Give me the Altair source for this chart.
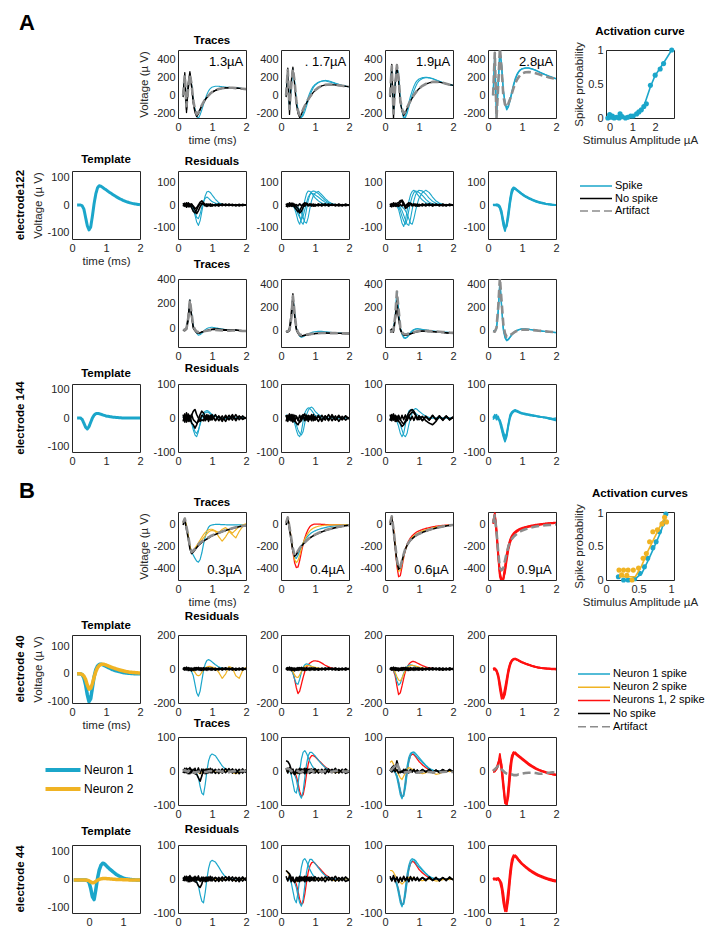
import altair as alt
import pandas as pd

FONT = "Liberation Sans"
CYAN = "#1ba6ca"
YELLOW = "#f0b323"
RED = "#ff1010"
GRAY = "#8c8c8c"
BLACK = "#000000"
AXC = "#262626"

TYPES = ["Spike", "No spike", "Artifact", "Neuron 1 spike", "Neuron 2 spike",
         "Neurons 1, 2 spike", "Neuron 1", "Neuron 2"]
TYPE_COLORS = [CYAN, BLACK, GRAY, CYAN, YELLOW, RED, CYAN, YELLOW]
TYPE_DASHES = [[1, 0], [1, 0], [8, 4], [1, 0], [1, 0], [1, 0], [1, 0], [1, 0]]

# common time base (ms)
T = [0.15, 0.2, 0.25, 0.3, 0.35, 0.4, 0.45, 0.5, 0.55, 0.6, 0.65, 0.7, 0.75, 0.8, 0.85, 0.9, 0.95, 1.0,
     1.1, 1.2, 1.3, 1.4, 1.5, 1.6, 1.7, 1.8, 1.9, 2.0]
# time base of the electrode 44 template
TT = [-0.45, -0.3, -0.2, -0.1, -0.05, 0.0, 0.05, 0.1, 0.15, 0.2, 0.25, 0.3, 0.35, 0.4, 0.45, 0.5, 0.6,
      0.7, 0.8, 0.9, 1.0, 1.1, 1.2, 1.3, 1.4, 1.5]

# generic "no spike" noise traces
NZ1 = [8, -6, 10, -8, 6, -10, 5, -7, 8, -5, 6, -8, 7, -5, 6, -4, 5, -6, 4, -5, 6, -4, 5, -6, 4, -5, 6, -3]
NZ2 = [-6, 8, -5, 7, -8, 5, -6, 8, -5, 9, -7, 6, -6, 5, -7, 6, -5, 6, -7, 5, -6, 7, -5, 6, -7, 5, -6, 4]
NZ3 = [3, -3, 5, -2, 4, -6, 2, -4, 5, -3, 2, -5, 4, -2, 3, -4, 2, -3, 4, -2, 3, -4, 2, -3, 4, -2, 3, -2]

# ---------------- A: electrode 122 traces ----------------
a1c1_art = [0, 220, -120, 80, 230, 120, -60, -160, -210, -190, -150, -110, -75, -45, -20, 0, 20, 35, 55, 70, 78, 82, 84, 83, 80, 77, 73, 68]
a1c1_blk1 = [-20, 250, -190, 130, 260, 90, -90, -190, -235, -205, -160, -118, -80, -50, -25, -3, 18, 33, 54, 69, 77, 82, 84, 83, 80, 77, 73, 68]
a1c1_blk2 = [10, 200, -160, 60, 240, 110, -70, -175, -220, -198, -152, -112, -78, -48, -22, -2, 19, 34, 55, 70, 78, 82, 84, 83, 80, 77, 73, 68]
a1c1_cyn = [0, 220, -120, 80, 230, 120, -60, -150, -230, -255, -215, -160, -100, -40, 10, 50, 75, 90, 100, 100, 95, 90, 88, 85, 82, 79, 75, 70]

a1c2_art = [0, 280, -150, 100, 290, 150, -60, -170, -220, -200, -155, -115, -80, -45, -15, 10, 35, 55, 85, 105, 115, 120, 118, 115, 110, 105, 100, 95]
a1c2_blk = [-20, 300, -210, 150, 310, 120, -90, -200, -245, -210, -160, -120, -85, -50, -20, 8, 33, 53, 84, 104, 114, 118, 117, 114, 110, 105, 100, 95]
a1c2_cyn1 = [0, 280, -150, 100, 290, 150, -60, -165, -240, -250, -200, -140, -80, -20, 30, 70, 100, 120, 145, 155, 160, 150, 140, 128, 118, 108, 100, 95]
a1c2_cyn2 = [0, 280, -150, 100, 290, 150, -60, -150, -215, -240, -225, -180, -120, -60, 0, 45, 85, 110, 140, 158, 165, 160, 148, 134, 122, 110, 100, 95]

a1c3_art = [0, 320, -200, 100, 330, 200, -50, -150, -200, -180, -135, -95, -60, -25, 5, 30, 55, 75, 105, 125, 140, 148, 150, 146, 138, 128, 118, 110]
a1c3_blk = [-20, 340, -260, 150, 340, 150, -80, -170, -225, -190, -145, -100, -65, -30, 0, 28, 53, 73, 104, 124, 138, 146, 148, 145, 137, 127, 118, 110]
a1c3_cyn1 = [0, 320, -200, 100, 330, 200, -50, -175, -260, -230, -160, -80, -10, 50, 100, 140, 165, 180, 195, 200, 195, 185, 170, 155, 140, 128, 118, 110]
a1c3_cyn2 = [0, 320, -200, 100, 330, 200, -50, -160, -240, -245, -200, -130, -60, 0, 50, 95, 135, 160, 185, 195, 192, 182, 168, 152, 138, 126, 116, 110]

a1c4_art = [0, 470, -250, 100, 520, 300, 0, -100, -130, -90, -40, 20, 80, 130, 170, 200, 225, 240, 255, 258, 252, 243, 232, 220, 208, 196, 188, 180]
a1c4_cyn1 = [0, 450, -230, 120, 500, 330, 60, -90, -160, -130, -60, 20, 100, 170, 220, 255, 278, 290, 300, 300, 290, 275, 258, 240, 225, 210, 195, 182]
a1c4_cyn2 = [0, 450, -230, 120, 500, 320, 50, -70, -140, -110, -40, 40, 120, 185, 232, 262, 282, 294, 302, 303, 292, 278, 260, 243, 227, 212, 198, 185]

# ---------------- A: electrode 122 template / residuals ----------------
tmpl_a2 = [0, 0, 0, -3, -15, -45, -75, -90, -80, -40, 5, 40, 62, 70, 68, 64, 59, 55, 46, 38, 30, 23, 17, 12, 8, 5, 3, 1]

a2c1_cyn1 = [0, 0, 2, 0, -3, -8, -20, -45, -75, -90, -70, -30, 10, 40, 58, 60, 55, 45, 25, 10, 3, 0, -2, 0, 1, 0, 0, 0]
a2c1_cyn2 = [0, 1, 0, -2, 0, -5, -15, -35, -55, -60, -40, -10, 15, 30, 35, 30, 22, 15, 8, 3, 0, -1, 0, 1, 0, 0, 0, 0]
a2c1_blk1 = [8, -6, 10, -8, 6, -12, -28, -35, -20, -5, 6, 8, 3, -4, 5, -3, 4, -5, 3, -4, 5, -3, 4, -3, 2, -4, 3, 0]
a2c1_blk2 = [-6, 8, -10, 6, -8, 5, -10, -22, -38, -25, -8, 4, 6, 3, -3, 4, -5, 3, -4, 5, -3, 4, -2, 3, -4, 2, -3, 1]
a2c1_blk3 = [0, 4, -5, 10, -4, 3, -5, -15, -12, 0, 12, 18, 10, 2, -6, 0, 4, -2, 1, -3, 2, 0, -2, 1, 0, 2, -1, 0]

a2c2_cyn1 = [0, 0, 0, -2, -5, -15, -40, -70, -85, -60, -20, 20, 50, 62, 60, 52, 42, 32, 18, 8, 3, 0, 0, 0, 0, 0, 0, 0]
a2c2_cyn2 = [0, 0, 0, 0, -2, -5, -10, -25, -50, -75, -85, -60, -20, 20, 45, 58, 62, 60, 50, 35, 20, 10, 4, 0, 0, 0, 0, 0]
a2c2_cyn3 = [0, 0, 0, 0, 0, -2, -5, -10, -20, -35, -55, -75, -80, -55, -15, 20, 40, 52, 60, 45, 28, 15, 6, 2, 0, 0, 0, 0]
a2c2_cyn4 = [0, 0, 0, 0, -3, -8, -20, -40, -55, -65, -50, -20, 10, 35, 48, 52, 50, 45, 35, 22, 12, 5, 2, 0, 0, 0, 0, 0]
a2c2_blk1 = [6, -8, 10, -6, 8, -10, -20, -30, -25, -10, 4, 10, 5, -4, 5, -3, 4, -5, 3, -4, 5, -3, 4, -3, 2, -4, 3, 0]
a2c2_blk2 = [-8, 6, -6, 8, -6, 4, -8, -15, -35, -28, -10, 5, 8, 3, -3, 4, -5, 3, -4, 5, -3, 4, -2, 3, -4, 2, -3, 1]

a2c3_cyn1 = [0, 0, 0, -2, -5, -20, -50, -80, -95, -70, -25, 15, 45, 60, 65, 58, 48, 38, 22, 10, 4, 0, 0, 0, 0, 0, 0, 0]
a2c3_cyn2 = [0, 0, 0, 0, -2, -5, -12, -25, -45, -65, -85, -90, -60, -20, 20, 45, 58, 65, 62, 48, 30, 16, 8, 3, 0, 0, 0, 0]
a2c3_cyn3 = [0, 0, 0, 0, 0, -2, -4, -8, -15, -25, -40, -60, -80, -85, -60, -25, 5, 30, 55, 65, 55, 35, 18, 8, 3, 0, 0, 0]
a2c3_cyn4 = [0, 0, 0, 0, -3, -8, -25, -50, -70, -85, -65, -25, 10, 38, 55, 62, 60, 55, 42, 25, 12, 5, 2, 0, 0, 0, 0, 0]
a2c3_blk1 = [6, -8, 10, -6, 8, 10, 20, 15, 0, -10, 4, 10, 5, -4, 5, -3, 4, -5, 3, -4, 5, -3, 4, -3, 2, -4, 3, 0]
a2c3_blk2 = [-8, 6, -6, 8, -6, 4, 10, 22, 10, -15, -10, 5, 8, 3, -3, 4, -5, 3, -4, 5, -3, 4, -2, 3, -4, 2, -3, 1]

a2c4_cyn1 = [0, 2, -3, 0, -10, -35, -80, -105, -90, -40, 20, 60, 75, 72, 66, 60, 54, 48, 38, 30, 23, 17, 12, 8, 5, 3, 1, 0]
a2c4_cyn2 = [3, -2, 2, -5, -15, -45, -90, -115, -80, -25, 30, 68, 78, 74, 68, 62, 56, 50, 40, 32, 25, 19, 14, 10, 6, 4, 2, 0]
a2c4_cyn3 = [-2, 0, 3, 2, -5, -25, -65, -95, -95, -55, 5, 50, 70, 70, 64, 58, 52, 46, 36, 28, 21, 15, 10, 7, 4, 2, 0, -1]

# ---------------- A: electrode 144 traces ----------------
a3c1_art = [-15, -10, 0, 80, 230, 120, 20, -10, -25, -30, -28, -25, -22, -20, -18, -16, -15, -14, -13, -14, -16, -18, -18, -17, -16, -18, -20, -20]
a3c1_blk1 = [-10, -20, 10, 100, 230, 90, 0, -20, -35, -40, -35, -30, -25, -22, -18, -12, -8, -5, -3, -5, -8, -10, -12, -10, -12, -15, -18, -18]
a3c1_blk2 = [-20, -5, -10, 60, 200, 110, 10, -15, -30, -38, -35, -28, -24, -20, -16, -14, -12, -10, -8, -10, -14, -16, -15, -16, -14, -17, -19, -20]
a3c1_cyn = [-15, -10, 0, 80, 230, 120, 20, -10, -40, -55, -50, -40, -25, -10, 0, 5, 8, 10, 5, 0, -5, -10, -12, -14, -15, -17, -18, -20]

a3c2_art = [-15, -10, 0, 100, 300, 150, 20, -20, -40, -45, -45, -42, -40, -38, -36, -34, -32, -30, -28, -26, -26, -27, -28, -28, -29, -30, -30, -30]
a3c2_blk1 = [-10, -20, 20, 150, 320, 120, 0, -30, -50, -55, -50, -48, -45, -42, -40, -38, -35, -32, -30, -28, -27, -28, -30, -30, -29, -30, -31, -32]
a3c2_blk2 = [-20, -5, -10, 80, 260, 140, 15, -25, -45, -52, -48, -45, -43, -40, -38, -35, -33, -31, -29, -27, -26, -27, -28, -29, -30, -31, -32, -33]
a3c2_cyn = [-15, -10, 0, 100, 300, 150, 20, -20, -55, -65, -60, -50, -42, -35, -28, -22, -18, -15, -12, -12, -15, -18, -22, -25, -27, -28, -30, -30]

a3c3_art = [-10, -15, 0, 120, 340, 180, 20, -20, -35, -38, -36, -32, -28, -24, -20, -16, -12, -10, -8, -8, -10, -12, -14, -15, -17, -20, -23, -25]
a3c3_blk1 = [-5, 10, -20, 80, 230, 100, 0, -30, -45, -48, -44, -40, -35, -30, -25, -20, -15, -12, -10, -12, -14, -15, -17, -20, -23, -26, -28, -30]
a3c3_blk2 = [-15, -20, 10, 100, 260, 120, 10, -25, -40, -45, -42, -38, -33, -28, -22, -18, -14, -11, -9, -10, -12, -14, -16, -18, -21, -24, -27, -29]
a3c3_cyn1 = [-10, -15, 0, 120, 340, 180, 20, -40, -70, -75, -60, -40, -20, -5, 5, 10, 12, 10, 5, 0, -5, -10, -14, -16, -18, -20, -23, -25]
a3c3_cyn2 = [-10, -15, 0, 120, 340, 180, 20, -30, -60, -70, -65, -50, -30, -12, 0, 6, 10, 8, 4, 0, -4, -8, -12, -15, -17, -20, -22, -25]

a3c4_art = [-10, -15, 20, 200, 460, 250, 50, -30, -60, -55, -45, -35, -25, -15, -8, -3, 0, 2, 3, 2, 0, -3, -6, -9, -12, -15, -18, -20]
a3c4_cyn1 = [-10, -15, 10, 150, 420, 200, 0, -70, -95, -85, -65, -45, -28, -15, -5, 0, 5, 8, 8, 5, 2, -2, -6, -10, -13, -16, -19, -22]
a3c4_cyn2 = [-5, -10, 20, 180, 440, 220, 20, -60, -88, -80, -60, -40, -25, -12, -3, 3, 7, 10, 9, 6, 2, -3, -7, -11, -14, -17, -20, -24]

# ---------------- A: electrode 144 template / residuals ----------------
tmpl_a4 = [0, 0, 0, -5, -18, -32, -38, -30, -15, 0, 10, 15, 16, 15, 13, 11, 9, 7, 5, 3, 2, 1, 0, 0, 0, 0, 0, 0]

a4c1_cyn1 = [0, 5, -5, 0, -5, -15, -35, -50, -55, -40, -15, 5, 15, 20, 22, 20, 15, 10, 5, 2, 0, -2, 0, 2, 0, -1, 0, 0]
a4c1_cyn2 = [5, 0, -8, 5, 0, -10, -25, -40, -45, -35, -20, 0, 10, 15, 18, 16, 12, 8, 4, 0, -2, 0, 2, 0, -1, 0, 1, 0]
a4c1_blk1 = [10, -12, 15, -10, 8, -15, -20, -30, -20, -5, 10, 20, 15, 5, -5, 8, -6, 10, -8, 6, -10, 8, -5, 10, -8, 6, -4, 2]
a4c1_blk2 = [-10, 12, -8, 12, -10, 10, -5, -10, -15, -10, -5, 8, 5, -8, 10, -10, 8, -6, 10, -8, 6, -10, 8, -6, 10, -5, 6, -2]
a4c1_blk3 = [0, 8, -12, 6, -4, 8, 20, 25, 10, 0, -10, -5, -8, 6, -4, 5, -3, 4, -6, 5, -4, 3, -5, 4, -3, 5, -2, 0]

a4c2_cyn1 = [5, 0, -5, 3, -5, -15, -35, -50, -55, -40, -10, 15, 25, 30, 28, 22, 15, 8, 3, 0, -2, 0, 2, 0, 0, 0, 0, 0]
a4c2_cyn2 = [10, 5, 0, -5, 0, -8, -20, -35, -45, -50, -40, -15, 10, 22, 30, 32, 28, 20, 10, 4, 0, -2, 0, 1, 0, 0, 0, 0]
a4c2_blk1 = [8, -10, 12, -8, 10, -6, -15, -20, -10, 5, 10, -5, 8, -10, 6, -8, 10, -6, 8, -10, 6, -8, 10, -6, 8, -5, 6, -3]
a4c2_blk2 = [-10, 8, -6, 10, -12, 8, 5, -5, -12, -8, 5, 12, -6, 8, -5, 10, -8, 5, -10, 8, -6, 10, -8, 6, -10, 5, -6, 2]

a4c3_cyn1 = [5, 0, -5, 0, -10, -25, -45, -55, -45, -20, 5, 20, 25, 22, 18, 14, 10, 6, 2, 0, 0, 0, 0, 0, 0, 0, 0, 0]
a4c3_cyn2 = [0, 5, 0, -5, -5, -10, -20, -35, -50, -55, -45, -20, 0, 15, 25, 28, 25, 20, 12, 5, 2, 0, 0, 0, 0, 0, 0, 0]
a4c3_blk1 = [10, -8, 12, -10, 6, -10, -15, -25, -20, -8, 5, 15, 22, 25, 20, 10, 0, -5, 5, -8, -15, -20, -10, 5, -5, 6, -4, 2]
a4c3_blk2 = [-8, 10, -6, 8, -10, 8, -5, -12, -18, -12, -5, 6, 12, 18, 15, 8, -3, 6, -8, 5, -6, 8, -5, 6, -4, 5, -3, 0]

a4c4_cyn1 = [0, 10, -5, 5, -10, -30, -50, -65, -50, -20, 5, 15, 20, 22, 20, 18, 15, 14, 12, 10, 8, 6, 4, 3, 2, 0, -2, 0]
a4c4_cyn2 = [5, 0, 10, -5, -5, -20, -40, -55, -45, -15, 10, 18, 22, 24, 22, 20, 17, 15, 13, 11, 9, 7, 5, 2, 0, -3, -5, -8]
a4c4_cyn3 = [-5, 5, 0, 0, -15, -35, -55, -70, -55, -25, 0, 12, 18, 20, 18, 16, 14, 12, 10, 8, 6, 5, 3, 2, 1, 0, -3, -5]

# ---------------- B: electrode 40 traces ----------------
b1c1_art = [20, 60, -20, -100, -200, -250, -240, -220, -200, -180, -165, -155, -145, -135, -125, -115, -105, -98, -85, -72, -60, -50, -40, -30, -22, -15, -10, -5]
b1c1_blk = [0, 50, -40, -120, -220, -265, -250, -230, -210, -190, -175, -162, -150, -140, -130, -120, -110, -100, -88, -75, -62, -52, -42, -32, -24, -16, -10, -6]
b1c1_cyn = [20, 60, -20, -100, -200, -250, -280, -310, -335, -345, -320, -260, -180, -110, -55, -20, -5, 0, 5, 5, 3, 2, 0, 0, 0, 0, 0, 0]
b1c1_yel1 = [20, 60, -20, -100, -200, -250, -240, -220, -200, -180, -160, -140, -120, -100, -80, -65, -55, -50, -60, -110, -150, -110, -60, -90, -120, -60, -15, 0]
b1c1_yel2 = [20, 60, -20, -100, -200, -250, -240, -215, -190, -165, -140, -115, -90, -70, -55, -45, -40, -40, -55, -70, -40, -25, -50, -75, -45, -15, 0, 10]

b1c2_art = [20, 70, -20, -120, -220, -280, -270, -240, -215, -195, -175, -160, -145, -130, -118, -108, -98, -90, -75, -62, -50, -40, -32, -24, -17, -11, -6, -2]
b1c2_blk = [0, 60, -40, -140, -240, -290, -275, -245, -218, -198, -178, -162, -148, -133, -120, -110, -100, -92, -77, -64, -52, -42, -33, -25, -18, -12, -7, -3]
b1c2_red = [20, 70, -20, -120, -250, -350, -395, -390, -330, -250, -180, -120, -75, -40, -15, -2, 5, 8, 8, 6, 4, 2, 0, 0, 0, 0, 0, 0]
b1c2_yel = [20, 70, -20, -120, -240, -320, -350, -330, -280, -220, -170, -130, -100, -75, -55, -40, -30, -22, -12, -6, -2, 0, 0, 0, 0, 0, 0, 0]
b1c2_cyn = [20, 70, -20, -120, -240, -300, -310, -280, -240, -200, -165, -140, -118, -100, -85, -72, -62, -55, -42, -32, -24, -17, -12, -8, -4, -2, 0, 0]

b1c3_art = [20, 80, -40, -180, -320, -400, -390, -330, -270, -220, -185, -160, -140, -125, -112, -100, -90, -82, -68, -56, -45, -36, -28, -20, -14, -8, -4, 0]
b1c3_blk = [0, 70, -60, -200, -340, -410, -395, -335, -275, -225, -188, -162, -142, -127, -113, -101, -91, -83, -69, -57, -46, -37, -29, -21, -15, -9, -5, -1]
b1c3_red = [20, 80, -40, -200, -380, -480, -470, -390, -300, -230, -180, -145, -120, -100, -85, -72, -62, -55, -42, -32, -24, -17, -12, -8, -4, -2, 0, 0]
b1c3_yel = [20, 80, -40, -190, -350, -430, -420, -360, -290, -228, -185, -155, -132, -115, -100, -88, -78, -70, -56, -45, -35, -27, -20, -14, -9, -5, -2, 0]

b1c4_art = [20, 90, -60, -250, -400, -420, -400, -330, -260, -200, -160, -130, -110, -95, -82, -70, -60, -52, -40, -30, -22, -15, -10, -6, -2, 0, 2, 5]
b1c4_red1 = [30, 100, -50, -280, -460, -520, -510, -420, -300, -210, -150, -110, -85, -68, -55, -45, -38, -32, -22, -14, -8, -2, 3, 8, 12, 15, 18, 20]
b1c4_red2 = [10, 80, -80, -300, -480, -530, -490, -380, -270, -190, -135, -100, -78, -62, -50, -41, -34, -28, -18, -10, -4, 2, 6, 10, 14, 17, 20, 22]
b1c4_red3 = [20, 110, -40, -250, -440, -510, -500, -440, -330, -230, -165, -122, -95, -76, -62, -51, -43, -37, -27, -18, -11, -5, 0, 5, 9, 12, 15, 18]

# ---------------- B: electrode 40 template / residuals ----------------
tmpl_b2_n1 = [0, 0, 0, -3, -15, -40, -75, -100, -90, -50, -10, 15, 28, 34, 35, 33, 30, 27, 21, 15, 11, 8, 5, 3, 2, 1, 0, 0]
tmpl_b2_n2 = [0, 0, 0, -2, -8, -20, -40, -55, -52, -35, -12, 8, 22, 30, 34, 35, 34, 32, 27, 22, 18, 14, 11, 8, 6, 5, 4, 3]

b2c1_cyn = [0, 0, 0, 0, -5, -15, -40, -90, -140, -160, -130, -70, -10, 30, 50, 55, 50, 42, 25, 12, 5, 0, 0, 0, 0, 0, 0, 0]
b2c1_yel = [0, 0, 0, 0, 0, -5, -10, -20, -35, -40, -35, -20, -5, 5, 12, 15, 15, 12, 5, -20, -55, -30, 15, 5, -40, -55, -10, 10]

b2c2_red = [0, 0, 0, -5, -20, -60, -110, -145, -130, -90, -50, -15, 10, 25, 35, 42, 47, 48, 45, 35, 22, 12, 5, 2, 0, 0, 0, 0]
b2c2_cyn = [0, 0, 0, -5, -25, -60, -85, -90, -60, -20, 10, 25, 30, 28, 22, 15, 10, 5, 0, 0, 0, 0, 0, 0, 0, 0, 0, 0]
b2c2_yel = [0, 0, 0, -3, -15, -35, -48, -50, -35, -15, 5, 15, 20, 20, 18, 15, 12, 10, 6, 3, 0, 0, 0, 0, 0, 0, 0, 0]

b2c3_red = [0, 0, -10, -40, -100, -150, -140, -100, -55, -15, 10, 28, 38, 44, 44, 40, 35, 30, 20, 12, 6, 3, 0, 0, 0, 0, 0, 0]
b2c3_cyn = [0, 0, -8, -30, -70, -95, -85, -55, -25, 0, 15, 22, 24, 22, 18, 14, 10, 7, 3, 0, 0, 0, 0, 0, 0, 0, 0, 0]
b2c3_yel = [0, 0, -5, -20, -45, -65, -70, -55, -30, -8, 8, 15, 20, 22, 20, 17, 14, 11, 6, 2, 0, 0, 0, 0, 0, 0, 0, 0]

b2c4_red1 = [5, 0, -10, -40, -100, -160, -170, -130, -70, -10, 30, 50, 58, 60, 55, 50, 45, 40, 32, 25, 18, 12, 8, 5, 3, 2, 0, 0]
b2c4_red2 = [0, 5, -5, -30, -80, -140, -175, -150, -90, -25, 20, 45, 55, 58, 54, 48, 43, 38, 30, 23, 17, 11, 7, 4, 2, 0, -2, -3]
b2c4_red3 = [-5, -3, -15, -50, -120, -175, -160, -110, -55, 0, 35, 52, 60, 62, 57, 52, 46, 41, 33, 26, 19, 13, 9, 6, 4, 3, 2, 2]

# ---------------- B: electrode 44 traces ----------------
b3c1_cyn = [0, 0, 0, 0, 0, 0, 0, -3, -8, -20, -45, -65, -70, -40, 0, 30, 45, 50, 45, 30, 15, 5, 0, 0, 0, 0, 0, 0]
b3c1_yel = [0, 0, 0, 0, 0, 0, 0, 0, 0, -5, -8, -5, 0, 3, 5, 5, 3, 0, -3, -5, -3, 0, 0, -5, -8, -3, 0, 2]
b3c1_blk = [5, -5, 8, -8, 10, -5, 5, -8, -10, -20, -30, -15, 5, -8, 6, -5, 8, -6, 5, -7, 6, -5, 7, -6, 5, -8, 6, -5]
b3c1_art = [0, 2, 0, -2, 5, 0, -3, -5, -3, -2, -2, -3, -4, -3, -2, -1, 0, 0, 0, 0, -2, -3, -2, -1, 0, 0, 0, 0]

b3c2_red = [0, 0, 0, 0, 0, -5, -15, -35, -60, -75, -70, -45, -10, 20, 38, 45, 45, 42, 32, 22, 12, 5, 0, 0, 0, 0, 0, 0]
b3c2_cyn1 = [0, 0, 0, -10, -35, -60, -65, -40, 0, 35, 55, 60, 52, 40, 28, 18, 10, 5, 0, 0, 0, 0, 0, 0, 0, 0, 0, 0]
b3c2_cyn2 = [0, 0, 0, 0, -3, -10, -25, -50, -70, -80, -60, -20, 20, 45, 55, 55, 50, 45, 32, 20, 10, 4, 0, 0, 0, 0, 0, 0]
b3c2_yel = [0, 0, 0, 0, -2, -5, -8, -5, 0, 3, 5, 3, 0, 0, -2, 0, 2, 0, -2, 0, 0, 0, -3, -5, -3, 0, 0, 0]
b3c2_blk = [30, 28, 20, 5, -5, -10, -5, 5, -8, 6, -5, 8, -6, 5, -7, 6, -5, 7, -6, 5, -8, 6, -5, 8, -6, 5, -7, -3]
b3c2_art = [5, 8, 5, 0, -2, 0, 2, 0, -3, -2, 0, 2, 0, -2, 0, 2, -2, 0, 2, -2, 0, -3, -2, 0, 2, 0, -2, 0]

b3c3_red = [0, 0, 0, -5, -15, -35, -60, -78, -70, -40, 0, 30, 45, 50, 48, 42, 35, 28, 18, 10, 4, 0, 0, 0, 0, 0, 0, 0]
b3c3_cyn1 = [0, 0, 0, -5, -20, -45, -70, -82, -65, -25, 15, 40, 52, 55, 52, 46, 40, 35, 25, 15, 7, 2, 0, 0, 0, 0, 0, 0]
b3c3_cyn2 = [0, 0, 0, -3, -12, -30, -55, -75, -75, -50, -10, 25, 45, 55, 56, 52, 46, 40, 28, 17, 8, 3, 0, 0, 0, 0, 0, 0]
b3c3_yel = [25, 30, 20, 10, 0, -10, -20, -25, -15, -5, 5, 10, 8, 5, 3, 0, 0, -5, -8, -5, 0, -5, -10, -8, -3, 0, -2, 0]
b3c3_blk = [0, 10, 15, 5, 30, 10, -5, 0, -5, 5, 0, -5, 4, -3, 5, -4, 3, -5, 4, -3, 5, -4, 3, -5, 4, -3, 5, -2]
b3c3_art = [0, 5, 10, 15, 25, 10, 0, -3, -5, -4, -3, -2, -2, -3, -4, -5, -5, -4, -3, -2, -3, -4, -5, -4, -3, -2, -3, -3]

b3c4_red1 = [0, 5, 10, 20, 50, 10, -40, -90, -100, -60, 0, 40, 55, 52, 48, 44, 40, 36, 28, 20, 14, 8, 3, 0, -3, -6, -8, -10]
b3c4_red2 = [5, 0, 5, 15, 40, 20, -30, -80, -100, -75, -20, 30, 50, 55, 50, 46, 42, 38, 30, 22, 15, 9, 4, 0, -4, -7, -10, -12]
b3c4_red3 = [-3, -2, 8, 25, 35, 0, -50, -95, -95, -45, 15, 45, 55, 50, 46, 42, 38, 34, 26, 18, 12, 6, 2, -2, -5, -8, -10, -12]
b3c4_art = [0, 5, 10, 15, 15, 5, 0, -5, -8, -10, -10, -10, -12, -12, -12, -10, -10, -8, -6, -5, -5, -6, -8, -8, -6, -5, -4, -5]

# ---------------- B: electrode 44 template / residuals ----------------
tmpl_b4_n1 = [0, 0, 0, 0, -2, -8, -30, -60, -70, -35, 5, 35, 52, 60, 58, 52, 40, 30, 20, 13, 7, 4, 2, 1, 0, 0]
tmpl_b4_n2 = [0, 0, 0, 0, -1, -3, -7, -10, -9, -5, -1, 2, 4, 5, 5, 5, 4, 3, 2, 2, 1, 1, 0, 0, 0, 0]

b4c1_cyn = [0, 0, 0, 0, 0, 0, 0, -3, -8, -20, -45, -65, -70, -40, 0, 32, 50, 55, 50, 35, 18, 6, 0, 0, 0, 0, 0, 0]
b4c1_yel = [0, 0, 0, 0, 0, 0, 0, 0, 0, -3, -5, -3, 0, 2, 3, 3, 2, 0, -2, -3, -2, 0, 0, -3, -5, -2, 0, 2]
b4c1_blk = [5, -5, 8, -8, 10, -5, 5, -8, -10, -20, -25, -15, 5, -8, 6, -5, 8, -6, 5, -7, 6, -5, 7, -6, 5, -8, 6, -5]

b4c2_red = [0, 0, 0, 0, 0, -5, -15, -35, -60, -75, -70, -45, -10, 20, 38, 48, 50, 46, 35, 24, 13, 6, 0, 0, 0, 0, 0, 0]
b4c2_cyn1 = [0, 0, 0, -10, -35, -60, -70, -40, 0, 35, 55, 60, 52, 40, 28, 18, 10, 5, 0, 0, 0, 0, 0, 0, 0, 0, 0, 0]
b4c2_cyn2 = [0, 0, 0, 0, -3, -10, -25, -50, -70, -80, -60, -20, 20, 45, 58, 58, 52, 46, 33, 20, 10, 4, 0, 0, 0, 0, 0, 0]
b4c2_yel = [25, 20, 10, 0, -2, -5, -8, -5, 0, 3, 5, 3, 0, 0, -2, 0, 2, 0, -2, 0, 0, 0, -3, -5, -3, 0, 0, 0]
b4c2_blk = [25, 20, 15, 5, -5, -8, -5, 5, -8, 6, -5, 8, -6, 5, -7, 6, -5, 7, -6, 5, -8, 6, -5, 8, -6, 5, -7, -3]

b4c3_red = [0, 0, 0, -5, -15, -35, -60, -78, -70, -40, 0, 30, 45, 52, 50, 44, 36, 28, 18, 10, 4, 0, 0, 0, 0, 0, 0, 0]
b4c3_cyn1 = [0, 0, 0, -5, -20, -45, -70, -82, -65, -25, 15, 40, 55, 60, 56, 48, 40, 35, 25, 15, 7, 2, 0, 0, 0, 0, 0, 0]
b4c3_cyn2 = [0, 0, 0, -3, -12, -30, -55, -75, -75, -50, -10, 25, 45, 55, 58, 54, 47, 40, 28, 17, 8, 3, 0, 0, 0, 0, 0, 0]
b4c3_yel = [25, 25, 20, 10, 0, -5, -10, -15, -10, -5, 0, 5, 5, 3, 2, 0, 0, -3, -5, -3, 0, -3, -6, -5, -2, 0, -2, 0]

b4c4_red1 = [0, 2, -3, 2, -5, -20, -55, -90, -85, -45, 10, 50, 65, 68, 62, 56, 50, 45, 36, 28, 21, 15, 10, 6, 2, 0, -3, -5]
b4c4_red2 = [-3, 0, 2, -2, -8, -30, -70, -95, -70, -25, 25, 58, 70, 66, 60, 54, 48, 43, 34, 26, 19, 13, 8, 4, 0, -3, -6, -8]
b4c4_red3 = [3, -2, 0, 3, -3, -12, -40, -80, -95, -60, -5, 40, 62, 70, 65, 58, 52, 46, 38, 30, 23, 17, 12, 8, 4, 1, -2, -4]

# ---------------- activation curves ----------------
act_a_x = [-0.08, 0.0, 0.06, 0.12, 0.2, 0.3, 0.42, 0.46, 0.55, 0.7, 0.8, 0.93, 1.04, 1.19, 1.29, 1.4, 1.51, 1.62, 1.8, 2.01, 2.23, 2.38, 2.74]
act_a_y = [0.0, 0.05, 0.01, 0.03, 0.0, 0.01, 0.0, 0.06, 0.02, 0.0, 0.01, 0.03, 0.03, 0.06, 0.09, 0.12, 0.17, 0.21, 0.48, 0.63, 0.72, 0.8, 1.0]
fit_a_x = [-0.08, 0.5, 0.9, 1.2, 1.5, 1.8, 2.0, 2.2, 2.4, 2.74]
fit_a_y = [0.01, 0.01, 0.02, 0.06, 0.16, 0.46, 0.62, 0.72, 0.82, 1.0]

act_b1_x = [0.19, 0.27, 0.34, 0.44, 0.52, 0.59, 0.64, 0.72, 0.77, 0.82, 0.87, 0.92]
act_b1_y = [0.05, 0.0, 0.0, 0.02, 0.1, 0.2, 0.33, 0.49, 0.58, 0.73, 0.85, 1.0]
act_b2_x = [0.2, 0.27, 0.34, 0.42, 0.24, 0.32, 0.4, 0.5, 0.57, 0.62, 0.67, 0.72, 0.79, 0.86, 0.9, 0.93]
act_b2_y = [0.15, 0.15, 0.15, 0.15, 0.08, 0.07, 0.0, 0.18, 0.33, 0.4, 0.58, 0.73, 0.76, 0.85, 0.95, 0.88]
fit_b1_x = [0.3, 0.45, 0.55, 0.65, 0.75, 0.85, 0.92]
fit_b1_y = [0.0, 0.02, 0.1, 0.3, 0.52, 0.75, 0.98]
fit_b2_x = [0.2, 0.45, 0.54, 0.64, 0.74, 0.84, 0.91]
fit_b2_y = [0.05, 0.05, 0.2, 0.43, 0.63, 0.83, 0.96]

ANN_A = ["1.3\u00b5A", ". 1.7\u00b5A", "1.9\u00b5A", "2.8\u00b5A"]
ANN_B = ["0.3\u00b5A", "0.4\u00b5A", "0.6\u00b5A", "0.9\u00b5A"]

# ---------------- helpers ----------------
PW, PH = 68, 68
LBL = "datum.value < 0 ? '-' + abs(datum.value) : '' + datum.value"
VOLT = "Voltage (\u00b5 V)"
TIME = "time (ms)"


def xax(ticks, title=None):
    return alt.Axis(values=list(ticks), title=title, grid=False, ticks=False, domain=False,
                    labelExpr=LBL, labelFont=FONT, labelFontSize=11, labelColor=AXC,
                    labelPadding=3, labelOverlap=False, labelFlush=False,
                    titleFont=FONT, titleFontSize=11.5, titleFontWeight="normal",
                    titleColor=AXC, titlePadding=2)


def yax(ticks, title=None):
    return alt.Axis(values=list(ticks), title=title, grid=False, ticks=False, domain=False,
                    labelExpr=LBL, labelFont=FONT, labelFontSize=11, labelColor=AXC,
                    labelPadding=3, labelOverlap=False, labelFlush=False,
                    titleFont=FONT, titleFontSize=11.5, titleFontWeight="normal",
                    titleColor=AXC, titlePadding=3)


def ttl(text, offset=4):
    return alt.TitleParams(text=text, font=FONT, fontSize=11.5, fontWeight="bold", color="#000",
                           offset=offset, anchor="middle", frame="group")


def color_enc(leg=None):
    return alt.Color("type:N", scale=alt.Scale(domain=TYPES, range=TYPE_COLORS), legend=leg)


def dash_enc(leg=None):
    return alt.StrokeDash("type:N", scale=alt.Scale(domain=TYPES, range=TYPE_DASHES), legend=leg)


def line_df(items, tv):
    rows = []
    for k, (typ, w, vals) in enumerate(items):
        if len(vals) != len(tv):
            raise ValueError("length mismatch %s %d %s" % (typ, len(vals), vals[:6]))
        for t, v in zip(tv, vals):
            rows.append({"t": t, "v": v, "type": typ, "trace": k, "w": w})
    return pd.DataFrame(rows)


def traces_chart(items, xd, yd, yticks, xticks=(0, 1, 2), tv=T, title=None, xtitle=None,
                 ytitle=None, ann=None, legend=None, toff=4):
    x = alt.X("t:Q", scale=alt.Scale(domain=list(xd), nice=False, zero=False), axis=xax(xticks, xtitle))
    y = alt.Y("v:Q", scale=alt.Scale(domain=list(yd), nice=False, zero=False), axis=yax(yticks, ytitle))
    groups = []
    for it in items:
        if groups and groups[-1][0] == it[0]:
            groups[-1][1].append(it)
        else:
            groups.append([it[0], [it]])
    layers = []
    for typ, its in groups:
        df = line_df(its, tv)
        layers.append(alt.Chart(df).mark_line(clip=True, strokeJoin="round").encode(
            x=x, y=y, color=color_enc(legend), strokeDash=dash_enc(legend),
            strokeWidth=alt.StrokeWidth("w:Q", scale=None), detail="trace:N"))
    if ann is not None:
        adf = pd.DataFrame({"t": [ann[0]], "v": [ann[1]], "label": [ann[2]]})
        layers.append(alt.Chart(adf).mark_text(align="right", baseline="middle", font=FONT,
                                               fontSize=13, color="#000").encode(
            x=x, y=y, text="label:N"))
    ch = alt.layer(*layers).properties(width=PW, height=PH)
    if title:
        ch = ch.properties(title=ttl(title, toff))
    return ch


def activation_chart(series, xd, yd, xticks, title):
    x = alt.X("a:Q", scale=alt.Scale(domain=list(xd), nice=False, zero=False),
              axis=xax(xticks, "Stimulus Amplitude \u00b5A"))
    y = alt.Y("p:Q", scale=alt.Scale(domain=list(yd), nice=False, zero=False),
              axis=yax([0, 0.5, 1], "Spike probability"))
    layers = []
    for typ, px, py, fx, fy in series:
        fdf = pd.DataFrame({"a": fx, "p": fy, "type": typ})
        pdf = pd.DataFrame({"a": px, "p": py, "type": typ})
        layers.append(alt.Chart(fdf).mark_line(strokeWidth=1.6, clip=True).encode(
            x=x, y=y, color=color_enc()))
        layers.append(alt.Chart(pdf).mark_circle(size=26, opacity=1).encode(
            x=x, y=y, color=color_enc()))
    return alt.layer(*layers).properties(width=PW, height=PH, title=ttl(title))


SPACER_DF = pd.DataFrame({"s": [0]})
NOVIEW = alt.ViewBackground(stroke="transparent")


def spacer(w, h):
    return alt.Chart(SPACER_DF).mark_point(opacity=0).properties(width=w, height=h, view=NOVIEW)


def text_cell(label, w, h, size, angle=0, align="center", baseline="middle", dx=0, dy=0):
    df = pd.DataFrame({"label": [label]})
    return alt.Chart(df).mark_text(font=FONT, fontSize=size, fontWeight="bold", angle=angle,
                                   align=align, baseline=baseline, dx=dx, dy=dy,
                                   color="#000").encode(
        text="label:N").properties(width=w, height=h, view=NOVIEW)


def make_legend(values, lx, ly, path, sw, fs, offs, rowpad):
    return alt.Legend(title=None, orient="none", legendX=lx, legendY=ly, direction="vertical",
                      values=values, symbolType=path, symbolSize=100, symbolStrokeWidth=sw,
                      labelOffset=offs, labelFont=FONT, labelFontSize=fs, labelColor="#000",
                      rowPadding=rowpad, padding=0, labelLimit=300)


LEG_A = make_legend(["Spike", "No spike", "Artifact"], 102, 9, "M-3.2,0H3.2", 1.5, 11, 13, 1.5)
LEG_B = make_legend(["Neuron 1 spike", "Neuron 2 spike", "Neurons 1, 2 spike", "No spike", "Artifact"],
                    100, 33, "M-3.2,0H3.2", 1.5, 11, 13, 2.2)
LEG_N = make_legend(["Neuron 1", "Neuron 2"], -16, 128, "M-3.5,0H3.5", 4, 12, 14, 3)

S, N, A = "Spike", "No spike", "Artifact"
N1, N2, N12 = "Neuron 1 spike", "Neuron 2 spike", "Neurons 1, 2 spike"
WB = 1.6  # black residual bundles

A1_ITEMS = [
    [(S, 1.1, a1c1_cyn), (N, 1.3, a1c1_blk1), (N, 1.3, a1c1_blk2), (A, 2.6, a1c1_art)],
    [(S, 1.1, a1c2_cyn1), (S, 1.1, a1c2_cyn2), (N, 1.3, a1c2_blk), (A, 2.6, a1c2_art)],
    [(S, 1.1, a1c3_cyn1), (S, 1.1, a1c3_cyn2), (N, 1.3, a1c3_blk), (A, 2.6, a1c3_art)],
    [(S, 1.3, a1c4_cyn1), (S, 1.3, a1c4_cyn2), (A, 2.6, a1c4_art)],
]
A2_ITEMS = [
    [(S, 1.1, a2c1_cyn1), (S, 1.1, a2c1_cyn2), (N, WB, a2c1_blk1), (N, WB, a2c1_blk2), (N, WB, a2c1_blk3)],
    [(S, 1.1, a2c2_cyn1), (S, 1.1, a2c2_cyn2), (S, 1.1, a2c2_cyn3), (S, 1.1, a2c2_cyn4),
     (N, WB, a2c2_blk1), (N, WB, a2c2_blk2), (N, WB, NZ3)],
    [(S, 1.1, a2c3_cyn1), (S, 1.1, a2c3_cyn2), (S, 1.1, a2c3_cyn3), (S, 1.1, a2c3_cyn4),
     (N, WB, a2c3_blk1), (N, WB, a2c3_blk2), (N, WB, NZ3)],
    [(S, 1.8, a2c4_cyn1), (S, 1.8, a2c4_cyn2), (S, 1.8, a2c4_cyn3)],
]
A3_ITEMS = [
    [(S, 1.1, a3c1_cyn), (N, 1.3, a3c1_blk1), (N, 1.3, a3c1_blk2), (A, 2.6, a3c1_art)],
    [(S, 1.1, a3c2_cyn), (N, 1.3, a3c2_blk1), (N, 1.3, a3c2_blk2), (A, 2.6, a3c2_art)],
    [(S, 1.1, a3c3_cyn1), (S, 1.1, a3c3_cyn2), (N, 1.3, a3c3_blk1), (N, 1.3, a3c3_blk2), (A, 2.6, a3c3_art)],
    [(S, 1.3, a3c4_cyn1), (S, 1.3, a3c4_cyn2), (A, 2.6, a3c4_art)],
]
A4_ITEMS = [
    [(S, 1.1, a4c1_cyn1), (S, 1.1, a4c1_cyn2), (N, WB, a4c1_blk1), (N, WB, a4c1_blk2), (N, WB, a4c1_blk3)],
    [(S, 1.1, a4c2_cyn1), (S, 1.1, a4c2_cyn2), (N, WB, a4c2_blk1), (N, WB, a4c2_blk2), (N, WB, NZ1)],
    [(S, 1.1, a4c3_cyn1), (S, 1.1, a4c3_cyn2), (N, WB, a4c3_blk1), (N, WB, a4c3_blk2), (N, WB, NZ2)],
    [(S, 1.6, a4c4_cyn1), (S, 1.6, a4c4_cyn2), (S, 1.6, a4c4_cyn3)],
]
B1_ITEMS = [
    [(N1, 1.2, b1c1_cyn), (N2, 1.2, b1c1_yel1), (N2, 1.2, b1c1_yel2), (N, 1.6, b1c1_blk), (A, 2.6, b1c1_art)],
    [(N12, 1.3, b1c2_red), (N1, 1.2, b1c2_cyn), (N2, 1.2, b1c2_yel), (N, 1.6, b1c2_blk), (A, 2.6, b1c2_art)],
    [(N12, 1.3, b1c3_red), (N2, 1.2, b1c3_yel), (N, 1.6, b1c3_blk), (A, 2.6, b1c3_art)],
    [(N12, 1.8, b1c4_red1), (N12, 1.8, b1c4_red2), (N12, 1.8, b1c4_red3), (A, 2.6, b1c4_art)],
]
B2_ITEMS = [
    [(N1, 1.2, b2c1_cyn), (N2, 1.2, b2c1_yel), (N, 1.8, NZ1), (N, 1.8, NZ2)],
    [(N12, 1.3, b2c2_red), (N1, 1.2, b2c2_cyn), (N2, 1.2, b2c2_yel), (N, 1.8, NZ1), (N, 1.8, NZ2)],
    [(N12, 1.3, b2c3_red), (N1, 1.2, b2c3_cyn), (N2, 1.2, b2c3_yel), (N, 1.8, NZ1), (N, 1.8, NZ2), (N, 1.8, NZ3)],
    [(N12, 1.8, b2c4_red1), (N12, 1.8, b2c4_red2), (N12, 1.8, b2c4_red3)],
]
B3_ITEMS = [
    [(N1, 1.2, b3c1_cyn), (N2, 1.2, b3c1_yel), (N, WB, b3c1_blk), (N, WB, NZ2), (A, 2.6, b3c1_art)],
    [(N12, 1.3, b3c2_red), (N1, 1.2, b3c2_cyn1), (N1, 1.2, b3c2_cyn2), (N2, 1.2, b3c2_yel),
     (N, WB, b3c2_blk), (N, WB, NZ1), (A, 2.6, b3c2_art)],
    [(N12, 1.3, b3c3_red), (N1, 1.2, b3c3_cyn1), (N1, 1.2, b3c3_cyn2), (N2, 1.2, b3c3_yel),
     (N, WB, b3c3_blk), (N, WB, NZ3), (A, 2.6, b3c3_art)],
    [(N12, 1.8, b3c4_red1), (N12, 1.8, b3c4_red2), (N12, 1.8, b3c4_red3), (A, 2.6, b3c4_art)],
]
B4_ITEMS = [
    [(N1, 1.2, b4c1_cyn), (N2, 1.2, b4c1_yel), (N, WB, b4c1_blk), (N, WB, NZ2), (N, WB, NZ3)],
    [(N12, 1.3, b4c2_red), (N1, 1.2, b4c2_cyn1), (N1, 1.2, b4c2_cyn2), (N2, 1.2, b4c2_yel),
     (N, WB, b4c2_blk), (N, WB, NZ1)],
    [(N12, 1.3, b4c3_red), (N1, 1.2, b4c3_cyn1), (N1, 1.2, b4c3_cyn2), (N2, 1.2, b4c3_yel),
     (N, WB, NZ1), (N, WB, NZ3)],
    [(N12, 1.8, b4c4_red1), (N12, 1.8, b4c4_red2), (N12, 1.8, b4c4_red3)],
]

# ---------------- grid layout ----------------
COLW = [24, 39, PW, 38, PW, 35, PW, 36, PW, 35, PW, 50, PW]
ROWH = [41, PH, 53, PH, 40, PH, 37, PH, 60, PH, 55, PH, 34, PH, 40, PH]
PCOL = [2, 4, 6, 8, 10, 12]

cells = {}
cells[(0, 0)] = text_cell("A", COLW[0], ROWH[0], 22, align="left", baseline="alphabetic", dx=-2, dy=0)
cells[(8, 0)] = text_cell("B", COLW[0], ROWH[8], 22, align="left", baseline="alphabetic", dx=-2, dy=16)
for r, lab in [(3, "electrode122"), (7, "electrode 144"), (11, "electrode 40"), (15, "electrode 44")]:
    cells[(r, 0)] = text_cell(lab, COLW[0], PH, 11.5, angle=270)

for i in range(4):
    first = i == 0
    cells[(1, PCOL[i + 1])] = traces_chart(
        A1_ITEMS[i], (0, 2), (-250, 500), (-200, 0, 200, 400),
        title="Traces" if first else None, xtitle=TIME if first else None,
        ytitle=VOLT if first else None, ann=(1.92, 365, ANN_A[i]))
    cells[(3, PCOL[i + 1])] = traces_chart(
        A2_ITEMS[i], (0, 2), (-150, 150), (-100, 0, 100),
        title="Residuals" if first else None, legend=LEG_A if i == 3 else None)
    cells[(5, PCOL[i + 1])] = traces_chart(
        A3_ITEMS[i], (0, 2), (-150, 400) if first else (-150, 450), (0, 200, 400),
        title="Traces" if first else None, toff=3)
    cells[(7, PCOL[i + 1])] = traces_chart(
        A4_ITEMS[i], (0, 2), (-100, 100), (-100, 0, 100),
        title="Residuals" if first else None)
    cells[(9, PCOL[i + 1])] = traces_chart(
        B1_ITEMS[i], (0, 2), (-510, 120), (-400, -200, 0),
        title="Traces" if first else None, xtitle=TIME if first else None,
        ytitle=VOLT if first else None, ann=(1.87, -420, ANN_B[i]))
    cells[(11, PCOL[i + 1])] = traces_chart(
        B2_ITEMS[i], (0, 2), (-200, 200), (-200, 0, 200),
        title="Residuals" if first else None, legend=LEG_B if i == 3 else None, toff=7)
    cells[(13, PCOL[i + 1])] = traces_chart(
        B3_ITEMS[i], (0, 2), (-100, 100), (-100, 0, 100),
        title="Traces" if first else None, toff=2)
    cells[(15, PCOL[i + 1])] = traces_chart(
        B4_ITEMS[i], (0, 2), (-100, 100), (-100, 0, 100),
        title="Residuals" if first else None)

cells[(3, 2)] = traces_chart([(S, 3, tmpl_a2)], (0, 2), (-123, 123), (-100, 0, 100),
                             title="Template", xtitle=TIME, ytitle=VOLT, toff=6)
cells[(7, 2)] = traces_chart([(S, 3, tmpl_a4)], (0, 2), (-118, 118), (-100, 0, 100), title="Template")
cells[(11, 2)] = traces_chart([("Neuron 1", 3.5, tmpl_b2_n1), ("Neuron 2", 3.5, tmpl_b2_n2)],
                              (0, 2), (-105, 140), (-100, 0, 100), title="Template",
                              xtitle=TIME, ytitle=VOLT, legend=LEG_N, toff=4)
cells[(15, 2)] = traces_chart([("Neuron 1", 3.5, tmpl_b4_n1), ("Neuron 2", 3.5, tmpl_b4_n2)],
                              (-0.5, 1.5), (-118, 125), (-100, 0, 100), xticks=(0, 1), tv=TT,
                              title="Template", toff=8)

cells[(1, 12)] = activation_chart([(S, act_a_x, act_a_y, fit_a_x, fit_a_y)],
                                  (-0.16, 2.84), (0, 1.0), (0, 1, 2), "Activation curve")
cells[(9, 12)] = activation_chart([("Neuron 1", act_b1_x, act_b1_y, fit_b1_x, fit_b1_y),
                                   ("Neuron 2", act_b2_x, act_b2_y, fit_b2_x, fit_b2_y)],
                                  (0, 1.045), (0, 1.03), (0, 0.5, 1), "Activation curves")

grid = []
for r, h in enumerate(ROWH):
    for c, w in enumerate(COLW):
        grid.append(cells.get((r, c), spacer(w, h)))

chart = alt.concat(*grid, columns=len(COLW), spacing=0).properties(
    bounds="flush",
    background="white",
    padding={"left": 0, "top": 0, "right": 2, "bottom": 0},
).resolve_scale(
    color="independent", strokeDash="independent"
).configure_view(
    stroke=AXC, strokeWidth=1
)

chart.save("out.html", embed_options={"renderer": "svg", "actions": False})
